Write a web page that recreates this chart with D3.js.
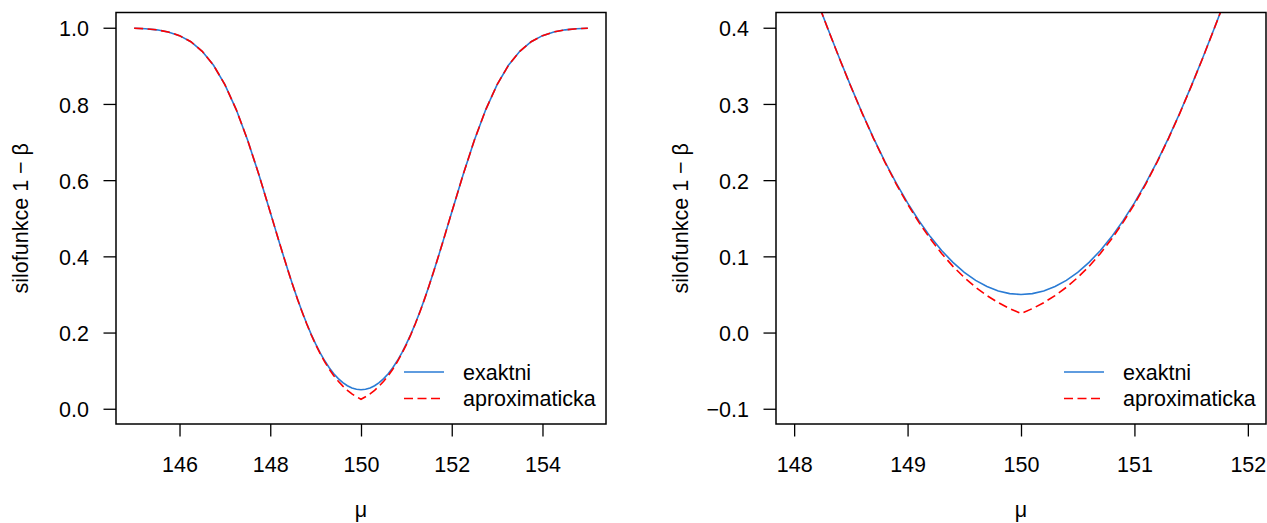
<!DOCTYPE html>
<html>
<head>
<meta charset="utf-8">
<script src="https://cdn.jsdelivr.net/npm/d3@7"></script>
<style>
  body { margin: 0; background: #fff; }
  svg { display: block; }
  text { font-family: "Liberation Sans", Arial, Helvetica, sans-serif; fill: #000; }
</style>
</head>
<body>
<div id="graf"></div>
<script>
// Hodnoty: mu a silofunkce 1 - beta
mu = [145, 145.25, 145.5, 145.75, 146, 146.25, 146.5, 146.75, 147, 147.25, 147.5, 147.75, 148,
      148.1, 148.2, 148.3, 148.4, 148.5, 148.6, 148.7, 148.8, 148.9, 149, 149.1, 149.2, 149.3, 149.4, 149.5, 149.6, 149.7, 149.8, 149.9,
      150,
      150.1, 150.2, 150.3, 150.4, 150.5, 150.6, 150.7, 150.8, 150.9, 151, 151.1, 151.2, 151.3, 151.4, 151.5, 151.6, 151.7, 151.8, 151.9,
      152, 152.25, 152.5, 152.75, 153, 153.25, 153.5, 153.75, 154, 154.25, 154.5, 154.75, 155]

exaktni = [0.9988, 0.9974, 0.9945, 0.9890, 0.9793, 0.9633, 0.9382, 0.9015, 0.8508, 0.7852, 0.7054, 0.6141, 0.5160,
           0.4761, 0.4365, 0.3976, 0.3596, 0.3230, 0.2881, 0.2552, 0.2244, 0.1960, 0.1701, 0.1467, 0.1259, 0.1077, 0.0921, 0.0791, 0.0685, 0.0604, 0.0546, 0.0511,
           0.0500,
           0.0511, 0.0546, 0.0604, 0.0685, 0.0791, 0.0921, 0.1077, 0.1259, 0.1467, 0.1701, 0.1960, 0.2244, 0.2552, 0.2881, 0.3230, 0.3596, 0.3976, 0.4365, 0.4761,
           0.5160, 0.6141, 0.7054, 0.7852, 0.8508, 0.9015, 0.9382, 0.9633, 0.9793, 0.9890, 0.9945, 0.9974, 0.9988]

aproximaticka = [0.9988, 0.9974, 0.9945, 0.9890, 0.9793, 0.9633, 0.9382, 0.9015, 0.8508, 0.7852, 0.7054, 0.6141, 0.5159,
                 0.4761, 0.4364, 0.3974, 0.3594, 0.3228, 0.2877, 0.2546, 0.2236, 0.1949, 0.1685, 0.1446, 0.1230, 0.1038, 0.0869, 0.0722, 0.0594, 0.0485, 0.0392, 0.0314,
                 0.0250,
                 0.0314, 0.0392, 0.0485, 0.0594, 0.0722, 0.0869, 0.1038, 0.1230, 0.1446, 0.1685, 0.1949, 0.2236, 0.2546, 0.2877, 0.3228, 0.3594, 0.3974, 0.4364, 0.4761,
                 0.5159, 0.6141, 0.7054, 0.7852, 0.8508, 0.9015, 0.9382, 0.9633, 0.9793, 0.9890, 0.9945, 0.9974, 0.9988]

// popisky a osy
serie = ['exaktni', 'aproximaticka']
ylabText = 'silofunkce 1 \u2212 \u03b2'
xlabText = '\u03bc'

levyXTicks = [146, 148, 150, 152, 154]
levyYTicks = [0, 0.2, 0.4, 0.6, 0.8, 1.0]
pravyXTicks = [148, 149, 150, 151, 152]
pravyYTicks = [-0.1, 0, 0.1, 0.2, 0.3, 0.4]

data = mu.map((m, i) => ({ mu: m, exaktni: exaktni[i], aproximaticka: aproximaticka[i] }))

// konfigurace
ancho = 1267
alto = 523
fontSize = 21.5
tickLen = 12.5
barvy = { exaktni: '#2a7bd4', aproximaticka: '#ff0000' }

svg = d3.select('#graf').append('svg')
        .attr('width', ancho)
        .attr('height', alto)

function panel(id, box, xDom, yDom, xTicks, yTicks, yFmt) {
  x = d3.scaleLinear().domain(xDom).range([box.left, box.right])
  y = d3.scaleLinear().domain(yDom).range([box.bottom, box.top])

  g = svg.append('g').attr('class', id)

  g.append('clipPath').attr('id', 'clip-' + id)
    .append('rect')
      .attr('x', box.left).attr('y', box.top)
      .attr('width', box.right - box.left).attr('height', box.bottom - box.top)

  // krivky
  linea = k => d3.line().x(d => x(d.mu)).y(d => y(d[k]))
  plot = g.append('g').attr('clip-path', `url(#clip-${id})`)
  plot.append('path')
      .datum(data)
      .attr('d', linea('exaktni'))
      .attr('fill', 'none')
      .attr('stroke', barvy.exaktni)
      .attr('stroke-width', 1.6)
  plot.append('path')
      .datum(data)
      .attr('d', linea('aproximaticka'))
      .attr('fill', 'none')
      .attr('stroke', barvy.aproximaticka)
      .attr('stroke-width', 1.6)
      .attr('stroke-dasharray', '9,4.5')

  // osy ve stylu R
  xAxis = d3.axisBottom(x).tickValues(xTicks).tickSize(tickLen).tickPadding(0).tickFormat(d3.format('d'))
  gx = g.append('g').attr('transform', `translate(0, ${ box.bottom })`).call(xAxis)
  gx.select('.domain').remove()
  gx.selectAll('line').attr('stroke', '#000').attr('stroke-width', 1.3)
  gx.selectAll('text')
    .attr('y', 471.5 - box.bottom).attr('dy', null)
    .style('font-size', fontSize + 'px').attr('fill', '#000')

  yAxis = d3.axisLeft(y).tickValues(yTicks).tickSize(tickLen).tickPadding(0).tickFormat(yFmt)
  gy = g.append('g').attr('transform', `translate(${ box.left }, 0)`).call(yAxis)
  gy.select('.domain').remove()
  gy.selectAll('line').attr('stroke', '#000').attr('stroke-width', 1.3)
  gy.selectAll('text')
    .attr('x', -27).attr('dy', '0.38em')
    .style('font-size', fontSize + 'px').attr('fill', '#000')

  // ramecek
  g.append('rect')
    .attr('x', box.left).attr('y', box.top)
    .attr('width', box.right - box.left).attr('height', box.bottom - box.top)
    .attr('fill', 'none').attr('stroke', '#000').attr('stroke-width', 1.5)

  // popisky os
  g.append('text')
    .attr('x', (box.left + box.right) / 2).attr('y', 517)
    .attr('text-anchor', 'middle')
    .style('font-size', fontSize + 'px')
    .text(xlabText)
  g.append('text')
    .attr('transform', `translate(${ box.left - 88 }, ${ (box.top + box.bottom) / 2 }) rotate(-90)`)
    .attr('text-anchor', 'middle')
    .style('font-size', fontSize + 'px')
    .text(ylabText)

  // legenda vpravo dole
  leg = g.append('g')
  serie.forEach((s, i) => {
    yy = box.bottom - 52 + i * 26.5
    leg.append('line')
      .attr('x1', box.right - 202).attr('x2', box.right - 162)
      .attr('y1', yy).attr('y2', yy)
      .attr('stroke', barvy[s]).attr('stroke-width', 1.6)
      .attr('stroke-dasharray', s == 'aproximaticka' ? '9,4.5' : null)
    leg.append('text')
      .attr('x', box.right - 143).attr('y', yy).attr('dy', '0.35em')
      .style('font-size', fontSize + 'px')
      .text(s)
  })
}

panel('levy', { left: 116, right: 606, top: 12.5, bottom: 424 },
      [144.6, 155.4], [-0.04, 1.04], levyXTicks, levyYTicks, d3.format('.1f'))
panel('pravy', { left: 776, right: 1266, top: 12.5, bottom: 424 },
      [147.84, 152.16], [-0.12, 0.42], pravyXTicks, pravyYTicks, d3.format('.1f'))
</script>
</body>
</html>
